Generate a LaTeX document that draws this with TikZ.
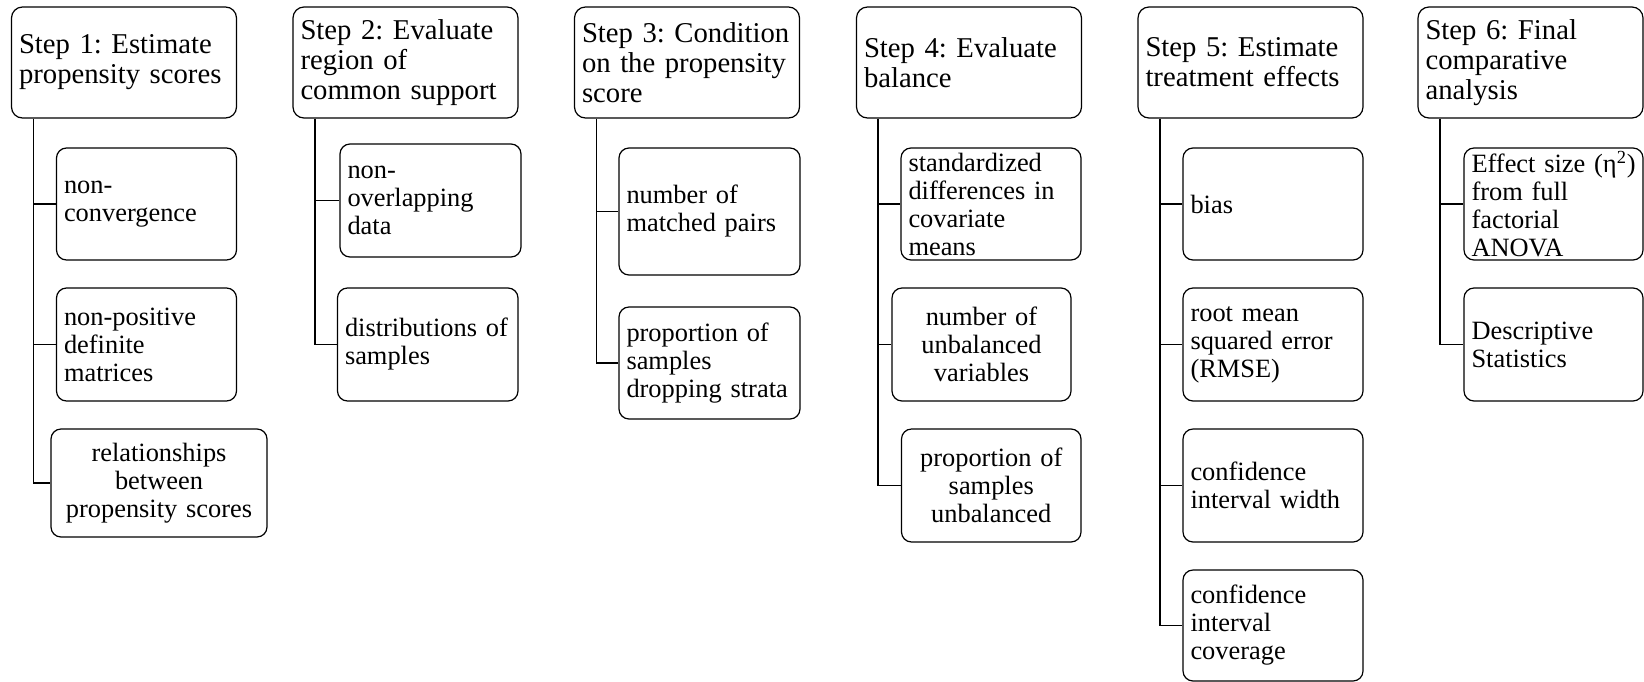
\documentclass[tikz,border=0pt]{standalone}
\usepackage{fontspec}
\setmainfont{Liberation Serif}
\frenchspacing
\hyphenpenalty=10000
\exhyphenpenalty=10000
\begin{document}
\begin{tikzpicture}[x=0.5pt,y=-0.5pt,
  hdr/.style={draw, line width=0.6pt, rounded corners=5.5pt, align=left,
    font=\fontsize{14.35pt}{15pt}\selectfont, inner xsep=3.75pt, inner ysep=0pt,
    text width=105pt, minimum height=55.5pt},
  sub/.style={draw, line width=0.6pt, rounded corners=5pt, align=left,
    font=\fontsize{13.2pt}{14pt}\selectfont, inner xsep=3.75pt, inner ysep=0pt},
  subc/.style={sub, align=center},
  spine/.style={draw, line width=0.65pt},
  spinebold/.style={draw, line width=0.85pt}]
\useasboundingbox (0,0) rectangle (1644,681);

% headers
\node[hdr] (H1) at (124,62.5) {Step 1: Estimate\\propensity scores};
\node[hdr] (H2) at (405.5,62.5) {Step 2: Evaluate\\region of\\common support};
\node[hdr] (H3) at (687,62.5) {Step 3: Condition\\on the propensity\\score};
\node[hdr] (H4) at (969,62.5) {Step 4: Evaluate\\balance};
\node[hdr] (H5) at (1250.5,62.5) {Step 5: Estimate\\treatment effects};
\node[hdr] (H6) at (1530.5,62.5) {Step 6: Final\\comparative\\analysis};

% children column 1
\node[sub, text width=82.5pt, minimum height=56pt] (C1a) at (146.5,204) {non-\\convergence};
\node[sub, text width=82.5pt, minimum height=56.5pt] (C1b) at (146.5,344.5) {non-positive\\definite\\matrices};
\node[subc, text width=100.5pt, minimum height=54pt] (C1c) at (159,483) {relationships\\between\\propensity scores};

% column 2
\node[sub, text width=83pt, minimum height=56.5pt] (C2a) at (430.5,200.5) {non-\\overlapping\\data};
\node[sub, text width=82.75pt, minimum height=56.5pt] (C2b) at (427.75,344.5) {distributions of\\samples};

% column 3
\node[sub, text width=83pt, minimum height=63.5pt] (C3a) at (709.5,211.5) {number of\\matched pairs};
\node[sub, text width=83pt, minimum height=56pt] (C3b) at (709.5,363) {proportion of\\samples\\dropping strata};

% column 4
\node[sub, text width=82.5pt, minimum height=56pt] (C4a) at (991,204) {standardized\\differences in\\covariate\\means};
\node[subc, text width=82pt, minimum height=56.5pt] (C4b) at (981.5,344.5) {number of\\unbalanced\\variables};
\node[subc, text width=82.25pt, minimum height=56.5pt] (C4c) at (991.25,485.5) {proportion of\\samples\\unbalanced};

% column 5
\node[sub, text width=82.5pt, minimum height=56pt] (C5a) at (1273,204) {bias};
\node[sub, text width=82.5pt, minimum height=56.5pt] (C5b) at (1273,344.5) {root mean\\squared error\\(RMSE)};
\node[sub, text width=82.5pt, minimum height=56.5pt] (C5c) at (1273,485.5) {confidence\\interval width};
\node[sub, text width=82.5pt, minimum height=55.5pt] (C5d) at (1273,625.5) {confidence\\interval\\coverage};

% column 6
\node[sub, text width=82pt, minimum height=56pt] (C6a) at (1553.5,204) {\mbox{Effect size (η\textsuperscript{2})}\\from full\\factorial\\ANOVA};
\node[sub, text width=82pt, minimum height=56.5pt] (C6b) at (1553.5,344.5) {Descriptive\\Statistics};

% spine coordinates
\coordinate (s1) at ([xshift=11.25pt]H1.south west);
\coordinate (s2) at ([xshift=11.25pt]H2.south west);
\coordinate (s3) at ([xshift=11.25pt]H3.south west);
\coordinate (s4) at ([xshift=11pt]H4.south west);
\coordinate (s5) at ([xshift=11.25pt]H5.south west);
\coordinate (s6) at ([xshift=11.25pt]H6.south west);

% connectors
\draw[spinebold] (s1) |- (C1c.west);
\draw[spinebold] (s1 |- C1a.west) -- (C1a.west);
\draw[spinebold] (s1 |- C1b.west) -- (C1b.west);

\draw[spine] (s2) |- (C2b.west);
\draw[spine] (s2 |- C2a.west) -- (C2a.west);

\draw[spine] (s3) |- (C3b.west);
\draw[spine] (s3 |- C3a.west) -- (C3a.west);

\draw[spine] (s4) |- (C4c.west);
\draw[spine] (s4 |- C4a.west) -- (C4a.west);
\draw[spine] (s4 |- C4b.west) -- (C4b.west);

\draw[spine] (s5) |- (C5d.west);
\draw[spine] (s5 |- C5a.west) -- (C5a.west);
\draw[spine] (s5 |- C5b.west) -- (C5b.west);
\draw[spine] (s5 |- C5c.west) -- (C5c.west);

\draw[spinebold] (s6) |- (C6b.west);
\draw[spinebold] (s6 |- C6a.west) -- (C6a.west);
\end{tikzpicture}
\end{document}
